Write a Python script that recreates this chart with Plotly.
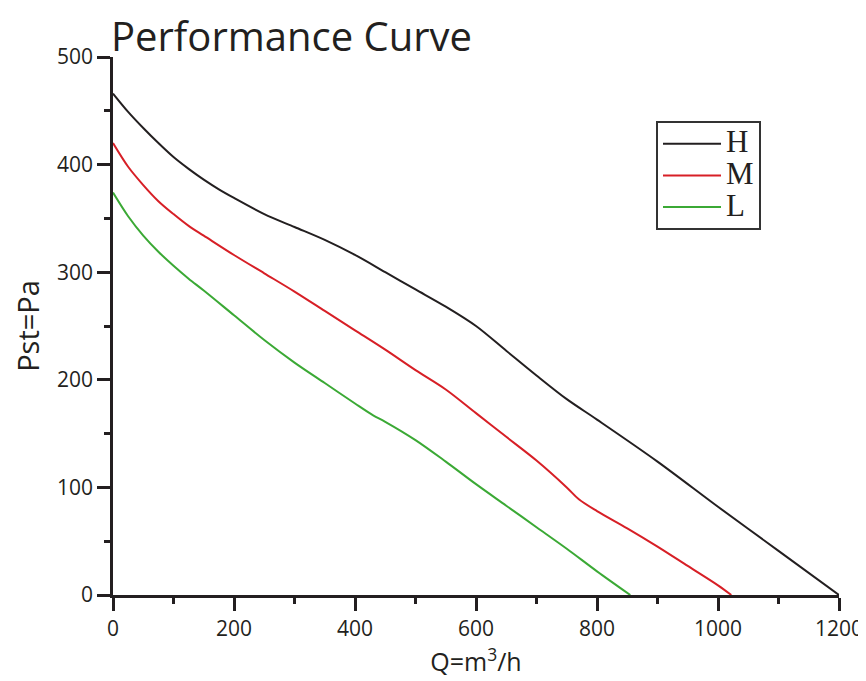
import plotly.graph_objects as go

q_h = [0, 25, 50, 75, 100, 125, 150, 175, 200, 250, 300, 350, 400, 450, 500, 550, 600, 650, 700, 750, 800, 900, 1000, 1100, 1200]
p_h = [466, 449, 434, 420, 407, 396, 386, 377, 369, 354, 342, 330, 316, 300, 284, 268, 250, 227, 204, 182, 163, 124, 82, 41, 0]

q_m = [0, 25, 50, 75, 100, 125, 150, 200, 250, 300, 350, 400, 450, 500, 550, 600, 650, 700, 750, 770, 800, 850, 900, 950, 1000, 1022]
p_m = [420, 398, 381, 366, 354, 343, 334, 316, 299, 282, 264, 246, 228, 209, 191, 169, 147, 125, 100, 89, 78, 62, 45, 27, 9, 0]

q_l = [0, 25, 50, 75, 100, 125, 150, 200, 250, 300, 350, 400, 430, 450, 500, 550, 600, 650, 700, 750, 800, 855]
p_l = [374, 352, 334, 319, 306, 294, 283, 260, 237, 216, 197, 178, 167, 161, 144, 124, 103, 83, 63, 43, 22, 0]

names = ["H", "M", "L"]
colors = ["#231f20", "#d71f26", "#3ba935"]

fig = go.Figure()
for name, xs, ys, c in zip(names, [q_h, q_m, q_l], [p_h, p_m, p_l], colors):
    fig.add_trace(go.Scatter(x=xs, y=ys, mode="lines",
                             name='<span style="font-size:31px">' + name + "</span>",
                             line=dict(color=c, width=2, shape="spline", smoothing=0.9)))

axis_common = dict(
    showline=True, linecolor="#231f20", linewidth=2.5,
    ticks="outside", tickcolor="#231f20", tickwidth=2.5, ticklen=13,
    showgrid=False, zeroline=False, automargin=False,
    tickfont=dict(family="Open Sans", size=21, color="#231f20"),
)

fig.update_xaxes(range=[0, 1200], tickvals=[0, 200, 400, 600, 800, 1000, 1200],
                 minor=dict(ticks="outside", ticklen=6, tickwidth=2.5, tickcolor="#231f20", dtick=100, tick0=0),
                 title=dict(text="Q=m<sup>3</sup>/h", font=dict(family="Open Sans", size=25, color="#231f20"), standoff=10),
                 **axis_common)
fig.update_yaxes(range=[0, 500], tickvals=[0, 100, 200, 300, 400, 500],
                 minor=dict(ticks="outside", ticklen=6, tickwidth=2.5, tickcolor="#231f20", dtick=50, tick0=0),
                 title=dict(text="Pst=Pa", font=dict(family="Open Sans", size=29, color="#231f20"), standoff=12),
                 **axis_common)

# page body has an 8px margin, so the figure is sized/offset to compensate
W, H = 858, 673
fig.update_layout(
    width=W, height=H,
    margin=dict(l=105, r=27, t=49, b=86),
    plot_bgcolor="white", paper_bgcolor="white",
    title=dict(text="Performance Curve", x=103 / W, xanchor="left", xref="container",
               y=1 - 29 / H, yanchor="middle", yref="container",
               font=dict(family="Open Sans", size=40, color="#231f20")),
    legend=dict(x=(648 - 105) / 726, y=(587 - 113) / 538, xanchor="left", yanchor="top",
                bgcolor="white", bordercolor="#333333", borderwidth=2,
                font=dict(family="Liberation Serif", size=22, color="#231f20"),
                itemwidth=58),
    showlegend=True,
)

fig.write_html("out.html")
